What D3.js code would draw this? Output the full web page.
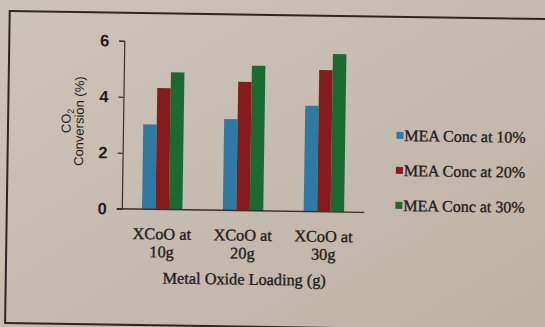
<!DOCTYPE html>
<html><head><meta charset="utf-8">
<script src="https://cdn.jsdelivr.net/npm/d3@7/dist/d3.min.js"></script>
<style>
html,body{margin:0;padding:0;background:#c3b8ac;}
svg{display:block;}
</style></head>
<body>
<svg id="chart" width="545" height="327"></svg>
<script>
const categories = ["XCoO at 10g", "XCoO at 20g", "XCoO at 30g"];
const categoryLines = [["XCoO at", "10g"], ["XCoO at", "20g"], ["XCoO at", "30g"]];
const seriesNames = ["MEA Conc at 10%", "MEA Conc at 20%", "MEA Conc at 30%"];
const mea10 = [3.03, 3.26, 3.78];
const mea20 = [4.33, 4.60, 5.06];
const mea30 = [4.90, 5.18, 5.64];
const yTicks = [0, 2, 4, 6];
const colors = ["#2d7ba3", "#861a1d", "#196b30"];

const series = [mea10, mea20, mea30];
const svg = d3.select("#chart");

const defs = svg.append("defs");
const grad = defs.append("linearGradient").attr("id","bg").attr("x1","0").attr("y1","0").attr("x2","1").attr("y2","1");
grad.append("stop").attr("offset","0").attr("stop-color","#cdc4b9");
grad.append("stop").attr("offset","1").attr("stop-color","#bfb2a5");
svg.append("rect").attr("width",545).attr("height",327).attr("fill","url(#bg)");

// the photographed page is slightly tilted
const g = svg.append("g").attr("transform","rotate(0.85,272,163)");

g.append("rect").attr("x",7.5).attr("y",15).attr("width",570).attr("height",312)
  .attr("fill","none").attr("stroke","#2f2620").attr("stroke-width",2);

const pLeft = 122.5, pRight = 365, pTop = 43, pBottom = 211;
const x0 = d3.scaleBand().domain(categories).range([pLeft, pRight]).paddingInner(0.5).paddingOuter(0.25);
const x1 = d3.scaleBand().domain(seriesNames).range([0, x0.bandwidth()]).padding(0);
const y = d3.scaleLinear().domain([0, 6]).range([pBottom, pTop]);

categories.forEach((c, i) => {
  g.append("g").selectAll("rect").data(series.map((s, k) => ({k, v: s[i]})))
    .join("rect")
    .attr("x", d => x0(c) + x1(seriesNames[d.k]))
    .attr("y", d => y(d.v))
    .attr("width", x1.bandwidth())
    .attr("height", d => y(0) - y(d.v))
    .attr("fill", d => colors[d.k]);
});

const yAxis = g.append("g").attr("transform", `translate(${pLeft},0)`)
  .call(d3.axisLeft(y).tickValues(yTicks).tickSize(5).tickPadding(10).tickFormat(d3.format("d")));
yAxis.select(".domain").attr("stroke","#3a302a").attr("stroke-width",1.2);
yAxis.selectAll(".tick line").attr("stroke","#3a302a").attr("stroke-width",1.2);
yAxis.selectAll("text").attr("font-family","Liberation Sans, Arial, sans-serif")
  .attr("font-size",16.5).attr("font-weight","bold").attr("fill","#231c18");

g.append("line").attr("x1", pLeft - 5).attr("x2", pRight).attr("y1", pBottom).attr("y2", pBottom)
  .attr("stroke","#3a302a").attr("stroke-width",1.4);

const serif = "Liberation Serif, Times New Roman, serif";
categories.forEach((c, i) => {
  const cx = x0(c) + x0.bandwidth()/2;
  const t = g.append("text").attr("x", cx).attr("y", 241)
    .attr("text-anchor","middle").attr("font-family",serif)
    .attr("font-size",16.3).attr("fill","#231c18").attr("stroke","#231c18").attr("stroke-width",0.35);
  categoryLines[i].forEach((ln, j) => {
    t.append("tspan").attr("x", cx).attr("dy", j === 0 ? 0 : 18).text(ln);
  });
});

g.append("text").attr("x", 246).attr("y", 285).attr("text-anchor","middle")
  .attr("font-family",serif).attr("font-size",16.3)
  .attr("fill","#231c18").attr("stroke","#231c18").attr("stroke-width",0.35)
  .text("Metal Oxide Loading (g)");

const yt = g.append("text").attr("transform","translate(70,124) rotate(-90)")
  .attr("text-anchor","middle").attr("font-family","Liberation Sans, Arial, sans-serif")
  .attr("font-size",13).attr("fill","#231c18");
yt.append("tspan").text("CO");
yt.append("tspan").attr("dy",3).attr("font-size",9).text("2");
g.append("text").attr("transform","translate(83,124) rotate(-90)")
  .attr("text-anchor","middle").attr("font-family","Liberation Sans, Arial, sans-serif")
  .attr("font-size",13).attr("fill","#231c18").text("Conversion (%)");

const legend = g.append("g").selectAll("g").data(seriesNames).join("g")
  .attr("transform", (d, i) => `translate(396, ${139 + i * 35})`);
legend.append("rect").attr("x",0).attr("y",-9).attr("width",7).attr("height",7)
  .attr("fill", (d, i) => colors[i]);
legend.append("text").attr("x",8).attr("y",0)
  .attr("font-family",serif).attr("font-size",16)
  .attr("fill","#231c18").attr("stroke","#231c18").attr("stroke-width",0.35)
  .text(d => d);
</script>
</body></html>
